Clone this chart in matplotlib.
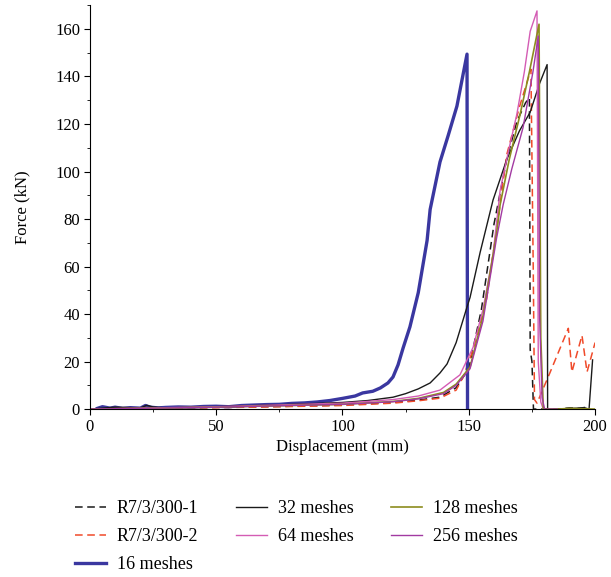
import matplotlib
matplotlib.use("Agg")
import matplotlib.pyplot as plt
from matplotlib.ticker import MultipleLocator

plt.rcParams['font.family'] = ['Liberation Serif', 'DejaVu Serif']

# R7/3/300-1 (test, black dashed)
exp1_x = [0, 25, 50, 75, 100, 120, 130, 138.6, 145, 150, 155, 160, 165, 169, 172.5, 174.0, 174.3, 175.0, 175.6, 185, 190, 193, 197]
exp1_y = [0, 0.3, 0.7, 1.1, 1.7, 2.8, 3.8, 5.0, 9, 17, 42, 78, 105, 121, 129, 131, 25, 20, 0, 0, 0.5, 0.3, 0.8]

# R7/3/300-2 (test, red dashed)
exp2_x = [0, 25, 50, 75, 100, 120, 130, 138.6, 145, 148, 151.7, 157, 161.6, 165, 170, 174.6, 175.5, 176, 177, 182, 189.4, 190.8, 194.8, 196.8, 200]
exp2_y = [0, 0.3, 0.6, 1.0, 1.5, 2.5, 3.5, 4.6, 8, 14, 25, 46, 80, 107, 127, 143, 60, 4, 2.5, 15, 34, 15.6, 31, 15.6, 28]

# 16 meshes
m16_x = [3, 5, 8, 10, 13, 16, 20, 22, 24, 27, 30, 35, 40, 45, 50, 55, 60, 65, 70, 75, 80, 85, 90, 95, 100,
         105, 108, 112, 115, 118, 120, 122, 124, 126.7, 130, 133.5, 134.7, 138.6, 141.8, 145.3, 149.3, 149.5]
m16_y = [0.3, 1.0, 0.4, 0.8, 0.3, 0.6, 0.4, 1.5, 0.8, 0.5, 0.7, 0.9, 0.8, 1.1, 1.2, 1.0, 1.5, 1.7, 1.9, 2.0, 2.4, 2.6, 3.0, 3.6, 4.5,
         5.5, 6.8, 7.5, 8.9, 11, 13.5, 18.6, 25.7, 34.6, 49, 71, 84, 104, 115, 127.5, 149.4, 0]

# 32 meshes
m32_x = [0, 10, 20, 22.5, 25, 30, 50, 75, 100, 110, 120, 125, 130, 134.7, 138.6, 141.4, 145, 149.3, 150.5, 154.5, 159.6,
         165, 170, 174.3, 178, 181, 181.2, 185, 190, 196, 197.6, 199]
m32_y = [0, 0.8, 0.5, 1.6, 0.9, 0.5, 1.0, 1.8, 2.8, 3.6, 5.0, 6.5, 8.5, 11, 15.2, 19, 28, 43, 47, 66, 88,
         105, 117, 125, 137, 145, 0, 0, 0.3, 0.5, 0, 20.7]

# 64 meshes
m64_x = [0, 50, 100, 120, 130, 138.6, 146.5, 151.7, 155.6, 159.6, 162.4, 166, 169, 172, 174.3, 177, 177.5, 178.5, 179.5]
m64_y = [0, 1.0, 2.5, 4.0, 5.5, 8.0, 14.4, 26, 41.8, 65, 92, 110, 124, 142, 159, 167.6, 20, 3, 0]

# 128 meshes
m128_x = [0, 50, 100, 120, 130, 140, 145, 150.5, 155.6, 161, 162.4, 166, 170.3, 174, 177.8, 178.5, 179.5, 185, 190, 200]
m128_y = [0, 0.8, 2.0, 3.2, 4.5, 7.0, 10.5, 17.7, 39, 74, 86, 105, 124, 142, 162, 30, 0, 0, 0.3, 0]

# 256 meshes
m256_x = [0, 50, 100, 120, 130, 140, 145, 150.5, 155.6, 161, 163.6, 167, 171.5, 175.4, 177.5, 178, 179, 180, 185]
m256_y = [0, 0.8, 2.0, 3.1, 4.3, 6.5, 10, 17, 37, 72, 86, 101, 118.6, 142, 157, 40, 5, 0, 0]

fig = plt.figure(figsize=(6.11, 5.77), dpi=100)
ax = fig.add_axes([0.147, 0.291, 0.827, 0.70])

ax.plot(exp1_x, exp1_y, color='#1a1a1a', lw=1.1, ls=(0, (5, 3)), label='R7/3/300-1')
ax.plot(exp2_x, exp2_y, color='#f04a2a', lw=1.1, ls=(0, (5, 3)), label='R7/3/300-2')
ax.plot(m16_x, m16_y, color='#3a37a0', lw=2.4, label='16 meshes')
ax.plot(m32_x, m32_y, color='#1a1a1a', lw=1.0, label='32 meshes')
ax.plot(m64_x, m64_y, color='#d45cb4', lw=1.0, label='64 meshes')
ax.plot(m128_x, m128_y, color='#8c8c1e', lw=1.2, label='128 meshes')
ax.plot(m256_x, m256_y, color='#a23aa2', lw=1.0, label='256 meshes')

ax.set_xlim(0, 200)
ax.set_ylim(0, 170)
ax.xaxis.set_major_locator(MultipleLocator(50))
ax.xaxis.set_minor_locator(MultipleLocator(25))
ax.yaxis.set_major_locator(MultipleLocator(20))
ax.yaxis.set_minor_locator(MultipleLocator(10))
ax.spines['top'].set_visible(False)
ax.spines['right'].set_visible(False)
ax.tick_params(labelsize=12, direction='out', length=4, pad=3)
ax.tick_params(which='minor', length=2.5)
ax.set_xlabel('Displacement (mm)', fontsize=12, labelpad=3)
ax.set_ylabel('Force (kN)', fontsize=12, labelpad=18)

fig.legend(loc='upper left', bbox_to_anchor=(0.123, 0.133), ncol=3, frameon=False,
           fontsize=13, handlelength=1.7, handletextpad=0.6, labelspacing=0.6,
           columnspacing=2.1, borderaxespad=0, borderpad=0)

fig.savefig('out.png', dpi=100)
